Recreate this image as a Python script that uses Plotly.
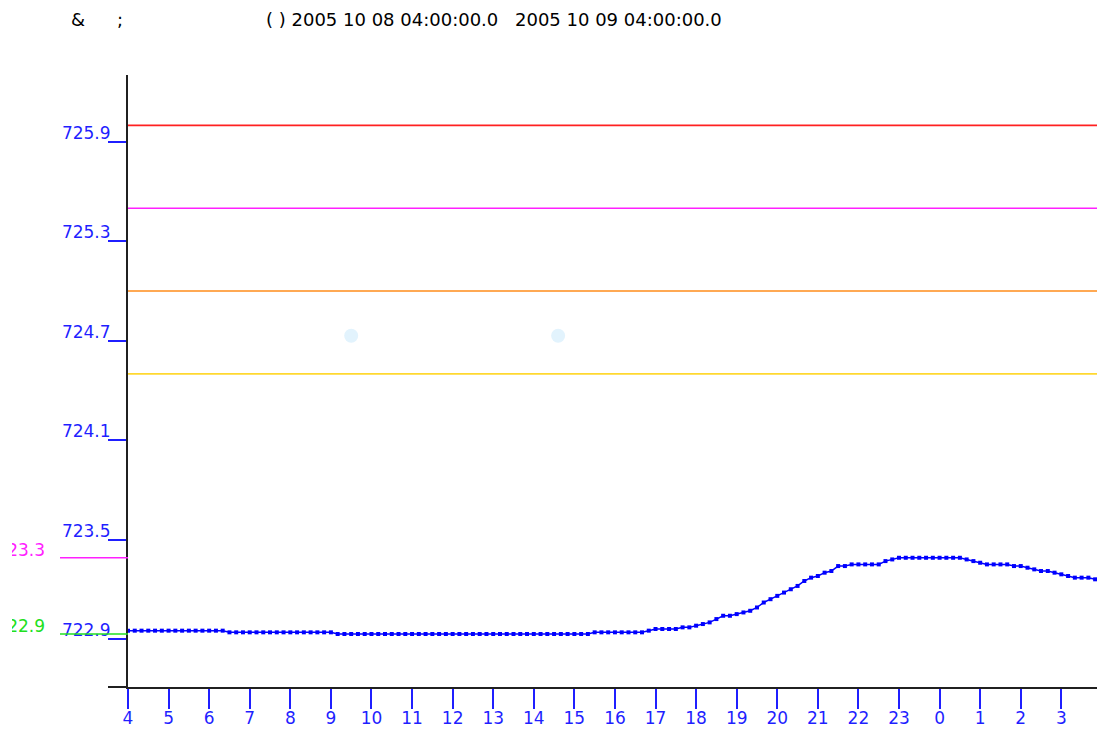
import math
import pandas as pd
import plotly.graph_objects as go

# ---------------- data ----------------
start_time = "2005-10-08 04:00"
end_time = "2005-10-09 03:52:45"
times = pd.date_range(start_time, periods=144, freq="10min")

values = [
    722.95, 722.95, 722.95, 722.95, 722.95, 722.95, 722.95, 722.95, 722.95, 722.95,
    722.95, 722.95, 722.95, 722.95, 722.95,
    722.94, 722.94, 722.94, 722.94, 722.94, 722.94, 722.94, 722.94, 722.94, 722.94,
    722.94, 722.94, 722.94, 722.94, 722.94, 722.94,
    722.93, 722.93, 722.93, 722.93, 722.93, 722.93, 722.93, 722.93, 722.93, 722.93,
    722.93, 722.93, 722.93, 722.93, 722.93, 722.93, 722.93, 722.93, 722.93, 722.93,
    722.93, 722.93, 722.93, 722.93, 722.93, 722.93, 722.93, 722.93, 722.93, 722.93,
    722.93, 722.93, 722.93, 722.93, 722.93, 722.93, 722.93, 722.93,
    722.94, 722.94, 722.94, 722.94, 722.94, 722.94, 722.94, 722.94,
    722.95, 722.96, 722.96, 722.96, 722.96, 722.97, 722.97, 722.98, 722.99, 723.00,
    723.02, 723.04, 723.04, 723.05, 723.06, 723.07, 723.09, 723.12, 723.14, 723.16,
    723.18, 723.20, 723.22, 723.25, 723.27, 723.28, 723.30, 723.31, 723.34, 723.34,
    723.35, 723.35, 723.35, 723.35, 723.35, 723.37, 723.38,
    723.39, 723.39, 723.39, 723.39, 723.39, 723.39, 723.39, 723.39, 723.39, 723.39,
    723.38, 723.37, 723.36, 723.35, 723.35, 723.35, 723.35, 723.34, 723.34, 723.33,
    723.32, 723.31, 723.31, 723.30, 723.29, 723.28, 723.27, 723.27, 723.27, 723.26,
]

limit_values = [726.0, 725.5, 725.0, 724.5]
limit_colors = ["#ff2020", "#ff20ff", "#ff8c1a", "#ffd830"]

y_ticks = [722.9, 723.5, 724.1, 724.7, 725.3, 725.9]
y_tick_labels = ["722.9", "723.5", "724.1", "724.7", "725.3", "725.9"]
y_range = [722.610, 726.304]

ghost_times = ["2005-10-08 09:30", "2005-10-08 14:36"]
ghost_values = [724.73, 724.73]

title_parts = ["&", ";", "( ) 2005 10 08 04:00:00.0", "2005 10 09 04:00:00.0"]
title_x_px = [69, 115, 264, 513]

# ---------------- layout geometry ----------------
W, H = 1097, 731
ML, MR, MT, MB = 128, 0, 75, 44
plot_w = W - ML - MR
plot_h = H - MT - MB
FONT = "DejaVu Sans"
BLUE = "#1f1fff"

fig = go.Figure()

fig.add_trace(go.Scatter(
    x=ghost_times, y=ghost_values, mode="markers",
    marker=dict(size=14, color="#e2f3fd", symbol="circle"),
    hoverinfo="skip", showlegend=False,
))

fig.add_trace(go.Scatter(
    x=times, y=values, mode="lines+markers",
    line=dict(color="#0000ff", width=1.5),
    marker=dict(symbol="square", size=4, color="#0000ff"),
    showlegend=False,
))

shapes = []
for v, c in zip(limit_values, limit_colors):
    shapes.append(dict(type="line", xref="paper", yref="y", x0=0, x1=1, y0=v, y1=v,
                       line=dict(color=c, width=1.6)))

vmax = max(values)
vmin = min(values)
left_x0 = (60 - ML) / plot_w
shapes.append(dict(type="line", xref="paper", yref="y", x0=left_x0, x1=0, y0=vmax, y1=vmax,
                   line=dict(color="#ff20ff", width=1.6)))
shapes.append(dict(type="line", xref="paper", yref="y", x0=left_x0, x1=0, y0=vmin, y1=vmin,
                   line=dict(color="#20e020", width=1.6)))
# x axis line extension to the left
shapes.append(dict(type="line", xref="paper", yref="paper", x0=(108 - ML) / plot_w, x1=0, y0=0, y1=0,
                   line=dict(color="#202020", width=2)))

annotations = []
for txt, xp in zip(title_parts, title_x_px):
    annotations.append(dict(text=txt, xref="paper", yref="paper",
                            x=(xp - ML) / plot_w, y=1 + (MT - 19) / plot_h,
                            xanchor="left", yanchor="middle", showarrow=False,
                            font=dict(family=FONT, size=18, color="black")))

for v, c in [(vmax, "#ff20ff"), (vmin, "#20e020")]:
    label = f"{math.floor(v * 10) / 10:.1f}"
    annotations.append(dict(text=label, xref="paper", yref="y",
                            x=(46 - ML) / plot_w, y=v, yshift=8,
                            xanchor="right", yanchor="middle", showarrow=False,
                            width=33, align="right", borderpad=0,
                            font=dict(family=FONT, size=17, color=c)))

fig.update_layout(
    width=W, height=H,
    margin=dict(l=ML, r=MR, t=MT, b=MB, autoexpand=False),
    paper_bgcolor="white", plot_bgcolor="white",
    shapes=shapes, annotations=annotations,
    xaxis=dict(
        range=[start_time, end_time], type="date",
        tickformat="%-H", dtick=3600000, tick0=start_time,
        showgrid=False, zeroline=False, automargin=False,
        showline=True, linecolor="#202020", linewidth=2,
        ticks="outside", ticklen=20, tickwidth=2, tickcolor=BLUE,
        tickfont=dict(family=FONT, size=17, color=BLUE),
        ticklabelstandoff=-5,
    ),
    yaxis=dict(
        range=y_range, tickvals=y_ticks, ticktext=y_tick_labels,
        showgrid=False, zeroline=False, automargin=False,
        showline=True, linecolor="#202020", linewidth=2,
        ticks="outside", ticklen=18, tickwidth=2, tickcolor=BLUE,
        tickfont=dict(family=FONT, size=17, color=BLUE),
        ticklabelstandoff=-6, ticklabelshift=-9,
    ),
)

fig.write_html(
    "out.html",
    config={"displayModeBar": False},
    post_script="document.body.style.margin='0';document.body.style.overflow='hidden';",
)
